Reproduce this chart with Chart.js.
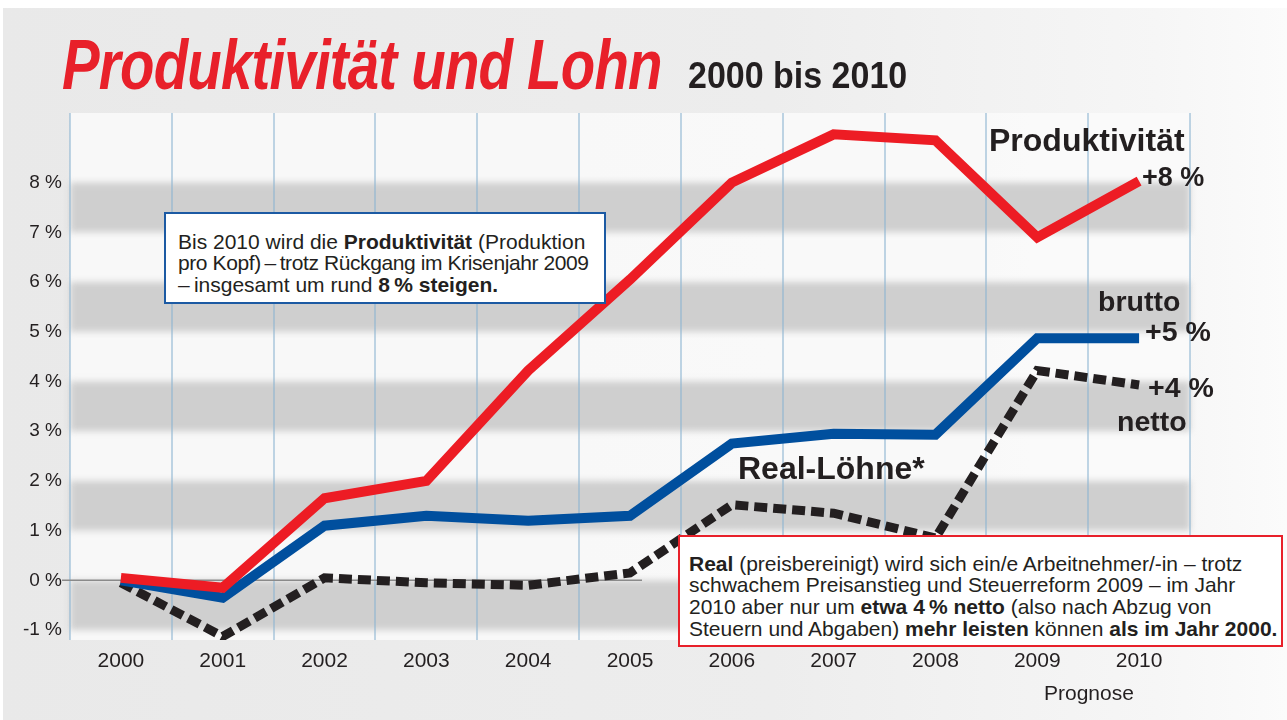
<!DOCTYPE html>
<html><head><meta charset="utf-8">
<script src="https://cdn.jsdelivr.net/npm/chart.js@4/dist/chart.umd.min.js"></script>
<style>
html,body{margin:0;padding:0;background:#fff;}
#wrap{position:relative;width:1287px;height:720px;overflow:hidden;font-family:"Liberation Sans",Arial,sans-serif;color:#231f20;}
canvas{position:absolute;left:0;top:0;}
.t{position:absolute;white-space:nowrap;}
#title{left:62px;top:25px;font-size:70px;font-weight:bold;font-style:italic;color:#e8202a;transform-origin:0 0;transform:scaleX(0.806);letter-spacing:-1px;}
#sub{left:688px;top:55px;font-size:36px;font-weight:bold;transform-origin:0 0;transform:scaleX(0.944);}
.box{position:absolute;background:#fff;font-size:21px;white-space:nowrap;}
#box1{left:164px;top:212px;width:438px;height:88px;border:2px solid #1c5aa3;line-height:21.5px;}
#box2{left:678px;top:535px;width:601px;height:108px;border:2px solid #e8202a;line-height:21.7px;}
.lab{position:absolute;font-weight:bold;white-space:nowrap;}
</style></head>
<body><div id="wrap">
<canvas id="c" width="1287" height="720"></canvas>
<div class="t" id="title">Produktivität und Lohn</div>
<div class="t" id="sub">2000 bis 2010</div>
<div class="box" id="box1"><div style="position:absolute;left:12px;top:16.5px;">Bis 2010 wird die <b>Produktivität</b> (Produktion<br><span style="letter-spacing:-0.4px;">pro Kopf)&#8201;–&#8201;trotz Rückgang im Krisenjahr 2009</span><br>–&#8201;insgesamt um rund <b>8&#8201;% steigen.</b></div></div>
<div class="box" id="box2"><div style="position:absolute;left:9px;top:15.5px;"><b>Real</b> (preisbereinigt) wird sich ein/e Arbeitnehmer/-in – trotz<br>schwachem Preisanstieg und Steuerreform 2009 – im Jahr<br>2010 aber nur um <b>etwa 4&#8201;% netto</b> (also nach Abzug von<br>Steuern und Abgaben) <b>mehr leisten</b> können <b>als im Jahr 2000.</b></div></div>
<div class="lab" style="left:989px;top:122px;font-size:32px;">Produktivität</div>
<div class="lab" style="left:1142px;top:162px;font-size:27px;">+8 %</div>
<div class="lab" style="left:1098px;top:285px;font-size:28.5px;">brutto</div>
<div class="lab" style="left:1145px;top:315px;font-size:28.5px;">+5 %</div>
<div class="lab" style="left:1148px;top:371px;font-size:28.5px;">+4 %</div>
<div class="lab" style="left:1117px;top:405px;font-size:28.5px;">netto</div>
<div class="lab" style="left:738px;top:450px;font-size:32px;">Real-Löhne*</div>
<div class="t" style="left:1044px;top:681px;font-size:21px;">Prognose</div>
</div>
<script>
const years = ['2000','2001','2002','2003','2004','2005','2006','2007','2008','2009','2010'];
const produktivitaet = [0.05, -0.15, 1.65, 2.0, 4.22, 6.05, 8.0, 8.97, 8.85, 6.9, 8.03];
const bruttoLohn = [0.0, -0.35, 1.1, 1.3, 1.2, 1.3, 2.75, 2.95, 2.93, 4.87, 4.87];
const nettoLohn = [-0.05, -1.13, 0.05, -0.05, -0.1, 0.15, 1.52, 1.35, 0.85, 4.22, 3.93];
const bands = [[-1,0],[1,2],[3,4],[5,6],[7,8]];
const yTicks = [-1,0,1,2,3,4,5,6,7,8];

const bgPlugin = {
  id:'bg',
  beforeDraw(chart){
    const {ctx, chartArea:a, scales:{y}} = chart;
    ctx.save();
    const g = ctx.createLinearGradient(0,0,chart.width,0);
    g.addColorStop(0,'#e9e9e9'); g.addColorStop(0.6,'#ededed'); g.addColorStop(0.9,'#f6f6f6'); g.addColorStop(1,'#fbfbfb');
    ctx.fillStyle = g; ctx.fillRect(3,8,chart.width-3,chart.height-8);
    ctx.fillStyle = 'rgba(250,250,250,0.85)';
    ctx.fillRect(a.left, a.top, a.right-a.left, a.bottom-a.top);
    ctx.filter = 'blur(3px)';
    ctx.fillStyle = '#cfcfcf';
    bands.forEach(([lo,hi])=>{
      const y1 = y.getPixelForValue(hi), y2 = y.getPixelForValue(lo);
      ctx.fillRect(a.left, y1, a.right-a.left, y2-y1);
    });
    ctx.restore();
  },
  beforeDatasetsDraw(chart){
    const {ctx, scales:{x,y}} = chart;
    ctx.save();
    ctx.strokeStyle = '#8a8a8a'; ctx.lineWidth = 1.5;
    const y0 = y.getPixelForValue(0);
    ctx.beginPath(); ctx.moveTo(62,y0); ctx.lineTo(x.getPixelForValue(5)+12,y0); ctx.stroke();
    ctx.restore();
  }
};

new Chart(document.getElementById('c'), {
  type:'line',
  data:{labels:years, datasets:[
    {label:'Produktivität', data:produktivitaet, borderColor:'#ed1c24', borderWidth:10, pointRadius:0, tension:0, borderJoinStyle:'miter', borderCapStyle:'butt'},
    {label:'brutto', data:bruttoLohn, borderColor:'#004f9e', borderWidth:10, pointRadius:0, tension:0, borderJoinStyle:'miter', borderCapStyle:'butt'},
    {label:'netto', data:nettoLohn, borderColor:'#231f20', borderWidth:9, borderDash:[13,6], pointRadius:0, tension:0, borderJoinStyle:'miter', borderCapStyle:'butt'}
  ]},
  options:{
    responsive:false, animation:false, devicePixelRatio:1,
    layout:{padding:{left:0,right:97,top:113,bottom:0}},
    plugins:{legend:{display:false}, tooltip:{enabled:false}},
    scales:{
      x:{offset:true, grid:{offset:true, color:'rgba(140,180,210,0.55)', lineWidth:2, drawTicks:false},
         border:{display:false},
         ticks:{color:'#231f20', font:{family:'Liberation Sans', size:21}, padding:9, maxRotation:0},
         afterFit(s){ s.height = 80; }},
      y:{min:-1.2, max:9.4, grid:{display:false, drawTicks:false}, border:{display:false},
         afterBuildTicks(s){ s.ticks = yTicks.map(v=>({value:v})); },
         ticks:{color:'#231f20', font:{family:'Liberation Sans', size:19}, padding:8, callback:v=>v+' %'},
         afterFit(s){ s.width = 70; }}
    }
  },
  plugins:[bgPlugin]
});
</script>
</body></html>
